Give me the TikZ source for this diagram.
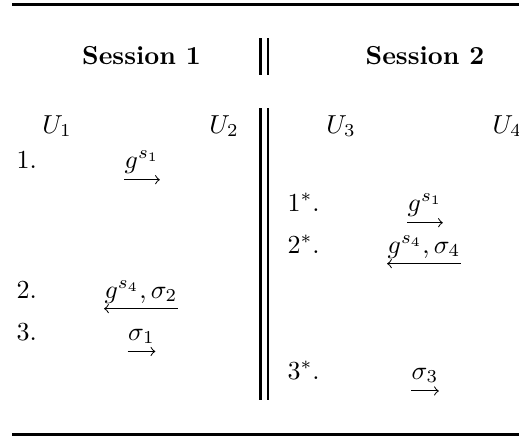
\documentclass[tikz,border=0pt]{standalone}
\usepackage{amsmath}
\begin{document}
\begin{tikzpicture}[x=0.3846pt,y=-0.3846pt,
  rule/.style={line width=1.25pt},
  vbar/.style={line width=1pt},
  lbl/.style={inner sep=0pt,anchor=base},
  num/.style={inner sep=0pt,anchor=base west},
  msg/.style={line width=0.4pt,-to},
  rmsg/.style={line width=0.4pt,to-}]
\useasboundingbox (0,0) rectangle (519,436);
% rules
\coordinate (tl) at (12,4.3);
\coordinate (tr) at (530,4.3);
\coordinate (bl) at (12,434.6);
\coordinate (br) at (530,434.6);
\draw[rule] (tl) -- (tr);
\draw[rule] (bl) -- (br);
% double vertical bars
\coordinate (h1t) at (260.7,38);  \coordinate (h1b) at (260.7,75);
\coordinate (h2t) at (268,38);    \coordinate (h2b) at (268,75);
\coordinate (b1t) at (260.7,108); \coordinate (b1b) at (260.7,400);
\coordinate (b2t) at (268,108);   \coordinate (b2b) at (268,400);
\draw[vbar] (h1t) -- (h1b);
\draw[vbar] (h2t) -- (h2b);
\draw[vbar] (b1t) -- (b1b);
\draw[vbar] (b2t) -- (b2b);
% headers
\node[lbl] (s1) at (141.5,64) {\textbf{Session 1}};
\node[lbl] (s2) at (425,64) {\textbf{Session 2}};
% parties
\node[lbl] (u1) at (57,133) {$U_1$};
\node[lbl] (u2) at (224,133) {$U_2$};
\node[lbl] (u3) at (341,133) {$U_3$};
\node[num] (u4) at (492,133) {$U_4$};
% session 1 steps
\node[num] (n1) at (16,168) {1.};
\node[lbl] (m1) at (142,168) {$g^{s_1}$};
\draw[msg] ([yshift=-4.5pt]m1.base west) -- ([yshift=-4.5pt]m1.base east);
\node[num] (n2) at (16,298) {2.};
\node[lbl] (m2) at (141,298) {$g^{s_4},\sigma_2$};
\draw[rmsg] ([yshift=-4.1pt]m2.base west) -- ([yshift=-4.1pt]m2.base east);
\node[num] (n3) at (16,340) {3.};
\node[lbl] (m3) at (141.5,340) {$\sigma_1$};
\draw[msg] ([yshift=-4.4pt]m3.base west) -- ([yshift=-4.4pt]m3.base east);
% session 2 steps
\node[num] (p1) at (287,211) {$1^*$.};
\node[lbl] (q1) at (425,211) {$g^{s_1}$};
\draw[msg] ([yshift=-4.5pt]q1.base west) -- ([yshift=-4.5pt]q1.base east);
\node[num] (p2) at (287,253) {$2^*$.};
\node[lbl] (q2) at (424,253) {$g^{s_4},\sigma_4$};
\draw[rmsg] ([yshift=-4.1pt]q2.base west) -- ([yshift=-4.1pt]q2.base east);
\node[num] (p3) at (287,379) {$3^*$.};
\node[lbl] (q3) at (425,379) {$\sigma_3$};
\draw[msg] ([yshift=-4.6pt]q3.base west) -- ([yshift=-4.6pt]q3.base east);
\end{tikzpicture}
\end{document}
